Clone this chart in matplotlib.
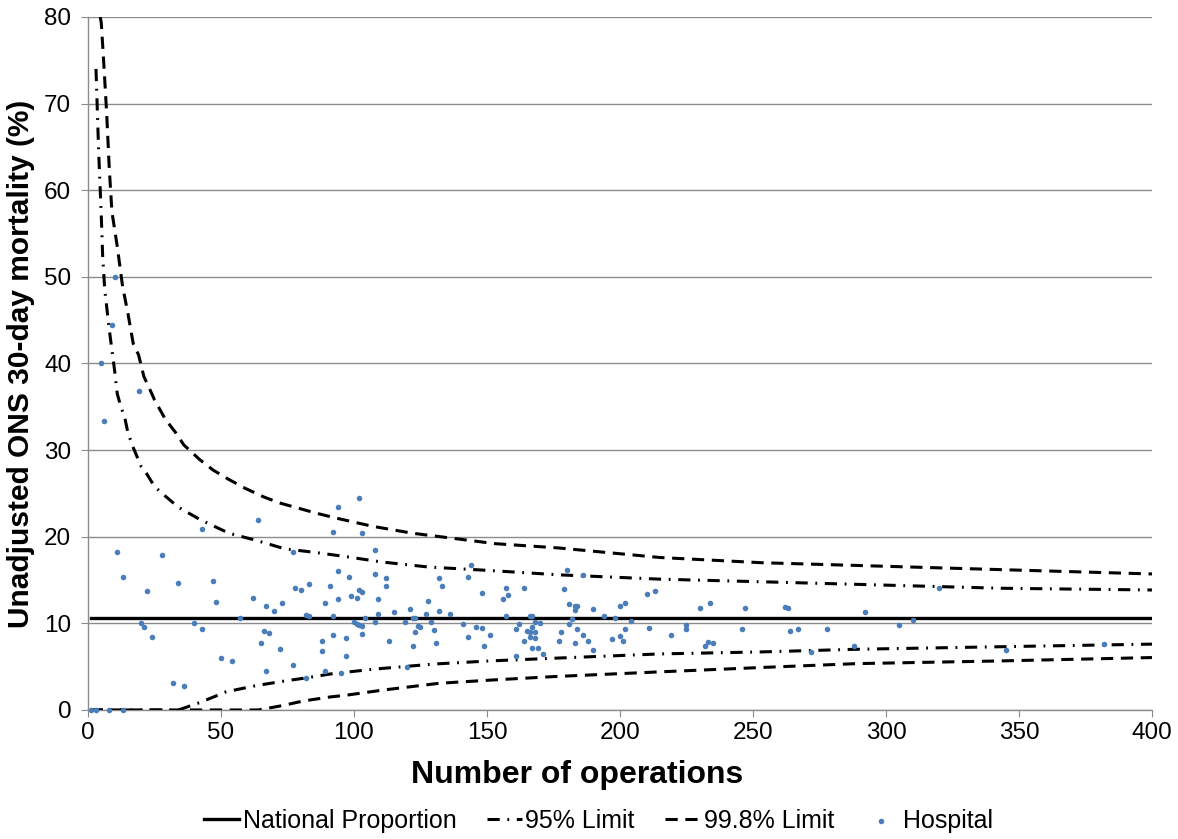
import matplotlib
matplotlib.use("Agg")
import matplotlib.pyplot as plt

plt.rcParams['font.family'] = ['Liberation Sans', 'DejaVu Sans']

#National proportion (%)
national_pct = 10.65
national_n = [1, 400]

#95% control limits
up95_n = [3, 3.5, 4, 5, 5.5, 6.3, 8, 10, 11, 12, 14, 15, 17, 20, 22, 25, 29, 34, 42, 53, 63, 74,
          85, 97, 110, 128, 151, 177, 215, 253, 289, 343, 400]
up95_pct = [74, 69.3, 64.5, 57, 52.5, 48.5, 43.9, 39.2, 36.5, 35.4, 33.5, 32, 30.3, 28.1, 27.3, 25.8,
            24.7, 23.4, 22.0, 20.4, 19.6, 18.6, 18.2, 17.7, 17.1, 16.5, 16.1, 15.6, 15.1, 14.8, 14.5,
            14.05, 13.85]
lo95_n = [1, 34, 42, 52, 63, 74, 82, 91, 107, 130, 151, 175, 215, 253, 288, 343, 400]
lo95_pct = [0, 0, 0.85, 2.1, 2.8, 3.35, 3.7, 4.15, 4.7, 5.3, 5.66, 5.97, 6.47, 6.7, 7.0, 7.3, 7.6]

#99.8% control limits
up998_n = [4.6, 5, 6, 7, 8, 9, 11, 13, 15, 17, 19, 21, 24, 25, 29, 33, 36, 42, 47, 53, 59, 66, 72,
           79, 86, 94, 107, 122, 135, 153, 177, 215, 253, 287, 343, 400]
up998_pct = [80, 79.3, 74.3, 69, 62.5, 57.5, 53.5, 48.9, 45.8, 42.3, 41, 38.5, 36.5, 35.8, 33.6, 32,
             30.6, 28.9, 27.7, 26.6, 25.6, 24.6, 23.9, 23.3, 22.7, 22.1, 21.2, 20.4, 19.9, 19.2, 18.7,
             17.6, 17.0, 16.7, 16.2, 15.7]
lo998_n = [1, 64, 73, 81, 91, 97, 111, 132, 152, 175, 215, 253, 289, 343, 400]
lo998_pct = [0, 0, 0.5, 1.04, 1.5, 1.7, 2.3, 3.08, 3.46, 3.85, 4.4, 4.9, 5.35, 5.66, 6.05]

#Hospitals: number of operations and unadjusted mortality (%)
hosp_n = [1, 3, 8, 13, 5, 6, 9, 10, 19, 11, 13,
          94, 64, 43, 92, 77, 28, 94, 98, 22, 34, 47, 48, 78, 80, 83, 91, 62, 67, 70, 73, 89, 94,
          82, 83, 92, 57, 20, 21, 24, 40, 43, 66, 68, 65, 72, 50, 54, 77, 67, 32, 36, 82, 89, 88,
          88, 92, 95, 97, 97,
          102, 103, 108, 144, 143, 180, 108, 112, 132,
          112, 102, 103, 99, 101, 109, 133, 128, 115, 109, 104, 121, 127, 132, 136, 108, 100, 101,
          102, 103, 119, 122, 123, 124, 125, 129, 123, 130, 103, 113, 122, 131, 120,
          148, 157, 156, 158, 164, 157, 166, 167, 141, 146, 148, 162, 161, 165, 166, 167, 168, 170,
          168, 166, 168, 151, 143, 164, 149, 167, 169, 171, 161, 177,
          186, 179, 181, 183, 184, 183, 190, 182, 181, 194, 198, 200, 202, 204, 210, 213, 202, 200,
          201, 197, 211, 219, 178, 184, 186, 188, 183, 190,
          230, 234, 247, 262, 263, 225, 225, 246, 264, 267, 278, 232, 233, 235, 272, 288,
          292, 320, 305, 310, 345, 382]
hosp_pct = [0, 0, 0, 0, 40, 33.3, 44.4, 50, 36.8, 18.2, 15.4,
            23.4, 21.9, 20.9, 20.6, 18.2, 17.9, 16.0, 15.3, 13.7, 14.7, 14.9, 12.5, 14.1, 13.8, 14.5,
            14.3, 12.9, 12.0, 11.4, 12.4, 12.4, 12.8, 11.0, 10.9, 10.9, 10.6, 10.0, 9.6, 8.4, 10.0,
            9.35, 9.1, 8.85, 7.7, 7.0, 6.0, 5.6, 5.2, 4.5, 3.15, 2.8, 3.7, 4.5, 8.0, 6.85, 8.7, 4.3,
            8.3, 6.2,
            24.5, 20.4, 18.5, 16.7, 15.4, 16.1, 15.7, 15.2, 15.2,
            14.3, 13.8, 13.6, 13.2, 12.9, 12.85, 14.3, 12.55, 11.3, 11.05, 10.6, 11.6, 11.05, 11.4,
            11.1, 10.2, 10.1, 9.9, 9.8, 9.7, 10.1, 10.66, 10.6, 9.7, 9.6, 10.1, 8.97, 9.24, 8.8, 8.0,
            7.4, 7.7, 5.0,
            13.5, 14.05, 12.85, 13.3, 14.05, 10.85, 10.85, 10.8, 9.9, 9.6, 9.5, 9.9, 9.35, 9.1, 9.05,
            9.6, 10.16, 10.0, 8.97, 8.4, 8.35, 8.6, 8.4, 8.0, 7.4, 7.2, 7.1, 6.5, 6.2, 8.0,
            15.6, 14.0, 12.2, 12.05, 12.0, 11.5, 11.6, 10.5, 9.97, 10.85, 10.6, 12.0, 12.4, 10.3,
            13.4, 13.7, 9.4, 8.5, 8.0, 8.15, 9.5, 8.7, 9.0, 9.3, 8.6, 8.0, 7.7, 6.9,
            11.8, 12.4, 11.8, 11.85, 11.8, 9.8, 9.35, 9.4, 9.1, 9.4, 9.4, 7.4, 7.8, 7.7, 6.66, 7.35,
            11.3, 14.1, 9.85, 10.35, 6.96, 7.6]

fig = plt.figure(figsize=(11.78, 8.39), dpi=100)
ax = fig.add_axes([0.0747, 0.1538, 0.9032, 0.826])

grey = '#8c8c8c'
lw = 2.2

ax.plot(national_n, [national_pct] * len(national_n), color='black', lw=2.4,
        label='National Proportion', zorder=3)
ax.plot(up95_n, up95_pct, color='black', lw=lw, dashes=(4, 2.5, 0.6, 2.5),
        label='95% Limit', zorder=3)
ax.plot(lo95_n, lo95_pct, color='black', lw=lw, dashes=(4, 2.5, 0.6, 2.5), zorder=3)
ax.plot(up998_n, up998_pct, color='black', lw=lw, dashes=(4, 2.5),
        label='99.8% Limit', zorder=3)
ax.plot(lo998_n, lo998_pct, color='black', lw=lw, dashes=(4, 2.5), zorder=3)
ax.scatter(hosp_n, hosp_pct, s=16, color='#4a7ebb', label='Hospital', zorder=4,
           linewidths=0, clip_on=False)

ax.set_xlim(0, 400)
ax.set_ylim(0, 80)
ax.set_xticks(range(0, 401, 50))
ax.set_yticks(range(0, 81, 10))
ax.yaxis.grid(True, color=grey, lw=1)
ax.set_axisbelow(True)

for side in ['top', 'right']:
    ax.spines[side].set_visible(False)
for side in ['left', 'bottom']:
    ax.spines[side].set_color(grey)
    ax.spines[side].set_linewidth(1)
ax.tick_params(axis='both', direction='out', length=5, color=grey, labelsize=17.5,
               labelcolor='black')
ax.tick_params(axis='y', pad=7)

ax.set_xlabel('Number of operations', fontsize=23, fontweight='bold')
ax.set_ylabel('Unadjusted ONS 30-day mortality (%)', fontsize=21.5, fontweight='bold')
#Excel placed the x title a little left of centre
ax.xaxis.set_label_coords(0.46, -0.072)
ax.yaxis.set_label_coords(-0.05, 0.5)

fig.legend(loc='center', bbox_to_anchor=(0.508, 0.022), ncol=4, frameon=False, fontsize=18,
           handlelength=1.4, handletextpad=0.15, columnspacing=1.2)

fig.savefig('out.png', dpi=100)
